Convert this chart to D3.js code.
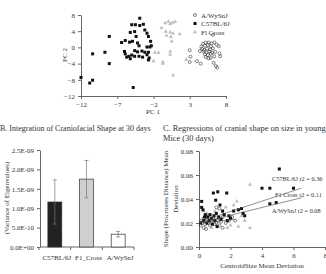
<!DOCTYPE html>
<html>
<head>
<meta charset="utf-8">
<script src="https://d3js.org/d3.v7.min.js"></script>
<style>
    body { margin: 0; background: #fff; }
    svg text { font-family: "Liberation Serif", "Times New Roman", serif; fill: #333; }
    .axis path, .axis line { stroke: #666; }
    .axis text { font-size: 7px; fill: #333; font-family: "Liberation Serif", serif; }
</style>
</head>
<body>
<svg id="fig" width="326" height="274"></svg>
<script>
// ---- Panel A: PCA scores ----
const pcaWy = [[3.0,-0.7],[3.1,-2.3],[3.0,-3.6],[4.0,-3.4],[4.5,-4.0],[6.2,3.1],
    [4.8,0.9],[5.2,1.2],[5.6,1.2],[6.0,1.0],[6.4,1.2],[4.6,0.2],[5.1,0.4],[5.5,0.6],[5.9,0.3],
    [6.7,0.7],[7.0,0.3],[4.7,-0.4],[5.0,-0.6],[5.4,-0.3],[5.8,-0.5],[6.2,-0.2],[4.9,-1.0],
    [5.3,-1.2],[5.7,-1.0],[6.1,-1.3],[6.5,-1.1],[5.1,-1.7],[5.5,-1.9],[5.9,-1.6],[5.2,-2.4],
    [5.6,-2.7],[5.9,-2.6],[6.3,-3.8],[6.6,-4.6],[6.8,-5.0],[7.2,-2.2],[7.1,-1.5],[4.4,-0.9],[6.4,-2.2]];
const pcaC57 = [[-3.9,7.2],[-5.0,5.6],[-4.5,5.6],[-3.9,5.4],[-3.4,5.7],[-5.2,3.7],[-4.6,3.9],
    [-3.2,4.3],[-2.9,3.5],[-8.1,2.7],[-4.4,2.7],[-2.7,2.7],[-6.4,1.2],[-5.9,1.7],[-5.3,1.3],
    [-4.9,1.5],[-4.2,1.1],[-4.0,0.4],[-2.4,1.5],[-2.3,0.4],[-2.9,0.1],[-2.5,0.1],[-6.0,-1.0],
    [-4.6,-0.8],[-4.2,-1.1],[-3.6,-0.9],[-3.2,-1.2],[-2.7,-1.2],[-5.9,-1.6],[-5.4,-2.2],
    [-5.0,-1.9],[-4.6,-2.2],[-4.0,-2.2],[-3.5,-2.4],[-2.9,-1.8],[-2.6,-2.6],[-2.7,-3.1],
    [-5.2,-2.8],[-5.7,-2.4],[-8.7,-1.2],[-10.4,-1.6],[-8.1,-4.0],[-12,-7.4],[-10.4,-8.1],
    [-10.8,-8.8],[-4.8,-9.9]];
const pcaF1 = [[-0.4,6.0],[0.05,6.4],[0.3,5.8],[0.65,6.1],[1.0,6.3],[-0.9,4.8],[-0.3,3.9],
    [0.3,3.7],[0.7,3.5],[1.6,3.3],[-0.2,2.9],[0.4,2.6],[0.5,1.5],[-1.8,-1.3],[-1.3,-1.3],
    [0.3,-1.0],[0.3,-1.8],[-2.0,-3.4],[-0.7,-3.6],[-0.7,-4.0],[0.7,-6.9],[2.5,-3.0]];
const pcaXTicks = [-12, -7, -2, 3, 8];
const pcaYTicks = [-12, -8, -4, 0, 4, 8];
const pcaLegend = ['A/WySnJ', 'C57BL/6J', 'Fl Cross'];

// ---- Panel B: integration ----
const strains = ['C57BL/6J', 'F1_Cross', 'A/WySnJ'];
const eigVar = [1.16e-9, 1.75e-9, 0.33e-9];
const eigErr = [0.57e-9, 0.48e-9, 0.07e-9];
const eigTicks = [0, 5e-10, 1e-9, 1.5e-9, 2e-9, 2.5e-9];
const eigTickLabels = ['0.0E+00', '5.0E-10', '1.0E-09', '1.5E-09', '2.0E-09', '2.5E-09'];

// ---- Panel C: shape on size ----
const regC57 = [[0.17,0.038],[0.91,0.045],[1.19,0.046],[1.76,0.045],[1.06,0.039],[1.33,0.035],
    [0.17,0.033],[0.25,0.031],[0.4,0.027],[0.55,0.025],[0.7,0.027],[0.8,0.024],[0.95,0.026],
    [1.1,0.028],[1.25,0.025],[1.5,0.03],[1.6,0.027],[1.9,0.026],[2.2,0.03],[2.5,0.031],
    [2.7,0.032],[2.8,0.028],[2.9,0.026],[4.0,0.049],[4.5,0.049],[5.1,0.065],[6.0,0.049],
    [4.5,0.036],[4.9,0.037],[0.3,0.022],[0.1,0.02],[0.5,0.02],[0.65,0.022],[1.0,0.022],
    [1.4,0.023],[0.85,0.019],[1.15,0.017],[2.0,0.024],[0.35,0.025],[1.8,0.022]];
const regWy = [[0.1,0.018],[0.2,0.02],[0.3,0.016],[0.4,0.019],[0.5,0.023],[0.6,0.02],[0.7,0.018],
    [0.8,0.021],[0.9,0.024],[1.0,0.019],[1.1,0.02],[1.2,0.022],[1.3,0.018],[1.4,0.021],[1.5,0.025],
    [1.7,0.02],[1.9,0.022],[0.3,0.024],[0.15,0.022],[1.1,0.033],[1.3,0.032],[0.6,0.026],
    [2.1,0.025],[1.5,0.016],[0.45,0.015],[2.3,0.022]];
const regF1 = [[3.24,0.052],[3.24,0.016],[2.5,0.017],[2.0,0.018],[1.8,0.016],[2.4,0.038],[0.3,0.03],
    [1.0,0.03],[1.5,0.029],[2.7,0.026],[2.2,0.035],[0.8,0.016],[1.2,0.024],[0.5,0.028],
    [1.7,0.033],[2.9,0.022]];
const regFits = [
    { label: 'C57BL/6J r2 = 0.36', from: [0, 0.021], to: [6.5, 0.049] },
    { label: 'F1 Cross r2 = 0.11', from: [0, 0.020], to: [6.5, 0.041] },
    { label: 'A/WySnJ r2 = 0.08', from: [0, 0.020], to: [2.3, 0.023] }
];
const regXTicks = [0, 2, 4, 6, 8];
const regYTicks = [0, 0.02, 0.04, 0.06, 0.08];

const svg = d3.select('#fig');
const grey = '#bdbdbd';

// symbol helpers
function drawSquares(g, data, x, y) {
    g.selectAll('rect.sq').data(data).join('rect').attr('class', 'sq')
        .attr('x', d => x(d[0]) - 1.5).attr('y', d => y(d[1]) - 1.5)
        .attr('width', 3).attr('height', 3).attr('fill', '#111');
}
function drawCircles(g, data, x, y) {
    g.selectAll('circle.ci').data(data).join('circle').attr('class', 'ci')
        .attr('cx', d => x(d[0])).attr('cy', d => y(d[1])).attr('r', 1.5)
        .attr('fill', 'none').attr('stroke', '#333').attr('stroke-width', 0.6);
}
function drawTriangles(g, data, x, y) {
    const tri = d3.symbol().type(d3.symbolTriangle).size(7);
    g.selectAll('path.tr').data(data).join('path').attr('class', 'tr')
        .attr('transform', d => `translate(${x(d[0])},${y(d[1])})`)
        .attr('d', tri).attr('fill', grey);
}

// ===== Panel A =====
const ax = d3.scaleLinear().domain([-12, 8]).range([81, 226]);
const ay = d3.scaleLinear().domain([-12, 8]).range([96, 15]);
const pA = svg.append('g');

pA.append('g').attr('class', 'axis').attr('transform', `translate(0,${ay(-12)})`)
    .call(d3.axisBottom(ax).tickValues(pcaXTicks).tickSize(3).tickSizeOuter(0));
pA.append('g').attr('class', 'axis').attr('transform', `translate(${ax(-12)},0)`)
    .call(d3.axisLeft(ay).tickValues(pcaYTicks).tickSize(3).tickSizeOuter(0));

drawTriangles(pA.append('g'), pcaF1, ax, ay);
drawSquares(pA.append('g'), pcaC57, ax, ay);
drawCircles(pA.append('g'), pcaWy, ax, ay);

pA.append('text').attr('x', 153).attr('y', 114).attr('text-anchor', 'middle')
    .attr('font-size', 7).text('PC 1');
pA.append('text').attr('transform', 'translate(67,55) rotate(-90)')
    .attr('text-anchor', 'middle').attr('font-size', 7).text('PC 2');

// legend
const leg = pA.append('g');
pcaLegend.forEach((name, i) => {
    const ly = 15 + i * 8.5;
    if (i === 0) leg.append('circle').attr('cx', 195).attr('cy', ly).attr('r', 1.5)
        .attr('fill', 'none').attr('stroke', '#333').attr('stroke-width', 0.6);
    if (i === 1) leg.append('rect').attr('x', 193.5).attr('y', ly - 1.5)
        .attr('width', 3).attr('height', 3).attr('fill', '#111');
    if (i === 2) leg.append('path').attr('transform', `translate(195,${ly})`)
        .attr('d', d3.symbol().type(d3.symbolTriangle).size(7)).attr('fill', grey);
    leg.append('text').attr('x', 201).attr('y', ly + 2.5).attr('font-size', 7).text(name);
});

// ===== Panel B =====
const bx = d3.scaleBand().domain(strains).range([39, 134]).paddingInner(0.56).paddingOuter(0.28);
const by = d3.scaleLinear().domain([0, 2.5e-9]).range([247, 150]);
const pB = svg.append('g');

pB.append('text').attr('x', 0).attr('y', 131).attr('font-size', 8)
    .text('B. Integration of Craniofacial Shape at 30 days');

const yAxB = d3.axisLeft(by).tickValues(eigTicks).tickSize(3)
    .tickFormat((d, i) => eigTickLabels[i]).tickSizeOuter(0);
pB.append('g').attr('class', 'axis').attr('transform', 'translate(40,0)').call(yAxB);

// category axis with ticks at band boundaries
const bAxis = pB.append('g').attr('class', 'axis');
bAxis.append('line').attr('x1', 40).attr('x2', 134).attr('y1', by(0)).attr('y2', by(0));
d3.range(strains.length + 1).forEach(i => {
    const tx = bx.range()[0] + i * bx.step();
    bAxis.append('line').attr('x1', tx).attr('x2', tx).attr('y1', by(0)).attr('y2', by(0) + 3);
});
bAxis.selectAll('text.cat').data(strains).join('text').attr('class', 'cat')
    .attr('x', d => bx(d) + bx.bandwidth() / 2 + 2).attr('y', 260)
    .attr('text-anchor', 'middle').text(d => d);

const fills = ['#222', '#cfcfcf', '#fff'];
pB.selectAll('rect.bar').data(strains).join('rect').attr('class', 'bar')
    .attr('x', d => bx(d)).attr('width', bx.bandwidth())
    .attr('y', (d, i) => by(eigVar[i])).attr('height', (d, i) => by(0) - by(eigVar[i]))
    .attr('fill', (d, i) => fills[i]).attr('stroke', '#333').attr('stroke-width', 0.7);

pB.selectAll('g.err').data(strains).join('g').attr('class', 'err').each(function (d, i) {
    const cx = bx(d) + bx.bandwidth() / 2;
    const g = d3.select(this);
    const hi = by(eigVar[i] + eigErr[i]), lo = by(eigVar[i] - eigErr[i]);
    g.append('line').attr('x1', cx).attr('x2', cx).attr('y1', hi).attr('y2', lo)
        .attr('stroke', '#777').attr('stroke-width', 0.7);
    [hi, lo].forEach(yy => g.append('line').attr('x1', cx - 2).attr('x2', cx + 2)
        .attr('y1', yy).attr('y2', yy).attr('stroke', '#777').attr('stroke-width', 0.7));
});

pB.append('text').attr('transform', 'translate(9,198) rotate(-90)')
    .attr('text-anchor', 'middle').attr('font-size', 7).text('(Variance of Eigenvalues)');

// ===== Panel C =====
const cx = d3.scaleLinear().domain([0, 8]).range([199, 325]);
const cy = d3.scaleLinear().domain([0, 0.08]).range([247, 151]);
const pC = svg.append('g');

pC.append('text').attr('x', 163).attr('y', 131).attr('font-size', 8.4)
    .text('C. Regressions of cranial shape on size in young');
pC.append('text').attr('x', 163).attr('y', 141).attr('font-size', 8.4)
    .text('Mice (30 days)');

pC.append('g').attr('class', 'axis').attr('transform', `translate(${cx(0)},0)`)
    .call(d3.axisLeft(cy).tickValues(regYTicks).tickSize(3).tickFormat(d3.format('.2f')).tickSizeOuter(0));
pC.append('g').attr('class', 'axis').attr('transform', `translate(0,${cy(0)})`)
    .call(d3.axisBottom(cx).tickValues(regXTicks).tickSize(3).tickSizeOuter(0));

drawTriangles(pC.append('g'), regF1, cx, cy);
drawCircles(pC.append('g'), regWy, cx, cy);
drawSquares(pC.append('g'), regC57, cx, cy);

pC.selectAll('line.fit').data(regFits).join('line').attr('class', 'fit')
    .attr('x1', d => cx(d.from[0])).attr('y1', d => cy(d.from[1]))
    .attr('x2', d => cx(d.to[0])).attr('y2', d => cy(d.to[1]))
    .attr('stroke', '#444').attr('stroke-width', 0.6);

const fitLabelY = [181, 197, 213];
const fitLabelX = [272, 275, 272];
pC.selectAll('text.fitlab').data(regFits).join('text').attr('class', 'fitlab')
    .attr('x', (d, i) => fitLabelX[i]).attr('y', (d, i) => fitLabelY[i])
    .attr('font-size', 6.3).text(d => d.label);

pC.append('text').attr('x', 262).attr('y', 268).attr('text-anchor', 'middle')
    .attr('font-size', 7).text('CentroidSize Mean Deviation');
pC.append('text').attr('transform', 'translate(168,199) rotate(-90)')
    .attr('text-anchor', 'middle').attr('font-size', 7).text('Shape (Procrustes Distance) Mean');
pC.append('text').attr('transform', 'translate(178,199) rotate(-90)')
    .attr('text-anchor', 'middle').attr('font-size', 7).text('Deviation');
</script>
</body>
</html>
